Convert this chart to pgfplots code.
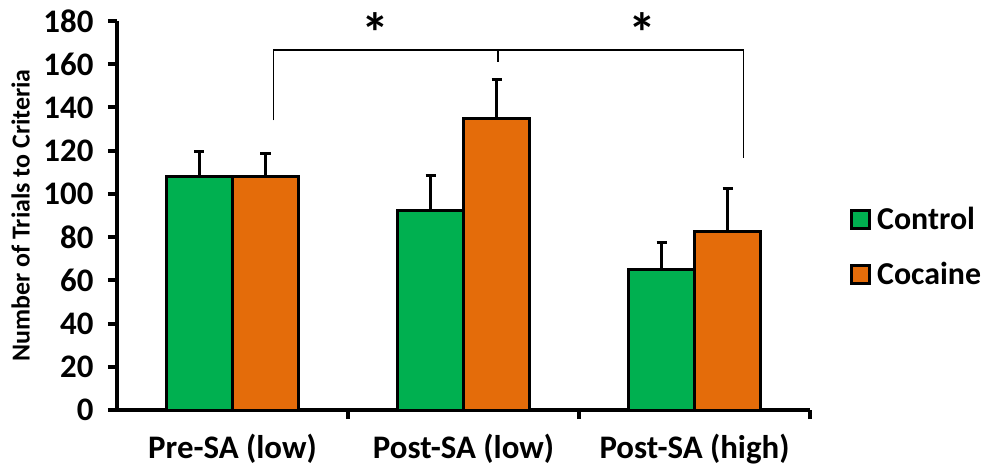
\documentclass[border=0pt]{standalone}
\usepackage{pgfplots}
\pgfplotsset{compat=1.18}
\usepackage{fontspec}
\setmainfont{Carlito}
\definecolor{cgreen}{RGB}{0,176,80}
\definecolor{corange}{RGB}{228,108,10}
\begin{document}
\begin{tikzpicture}
\begin{axis}[
  scale only axis,
  width=693bp, height=389bp,
  xmin=-0.5, xmax=2.5,
  ymin=0, ymax=180,
  ytick distance=20,
  xtick={0,1,2},
  xticklabels={Pre-SA (low),Post-SA (low),Post-SA (high)},
  minor xtick={0.5,1.5,2.5},
  axis x line*=bottom, axis y line*=left,
  axis line style={-, line width=4bp},
  x axis line style={-}, y axis line style={-},
  tick align=outside,
  major tick length=9bp, minor tick length=9bp,
  major x tick style={draw=none},
  minor x tick style={line width=4bp, black},
  major y tick style={line width=4bp, black},
  /pgf/number format/assume math mode=true,
  tick label style={font=\fontsize{33}{38}\selectfont\bfseries},
  yticklabel style={xshift=-11bp},
  xticklabel style={yshift=-12bp},
  ylabel={Number of Trials to Criteria},
  ylabel style={font=\fontsize{26}{30}\selectfont\bfseries, at={(axis description cs:-0.139,0.5)}, anchor=center},
  ybar=0pt, bar width=66bp,
  clip=false,
  legend style={draw=none, fill=none, at={(1.058,0.42)}, anchor=west, inner sep=0pt, outer sep=0pt,
    font=\fontsize{32}{36}\selectfont\bfseries, row sep=27bp},
  legend cell align=left,
  legend image code/.code={\draw[#1, line width=3bp] (0bp,-9bp) rectangle (18bp,9bp); \path (22bp,0bp);},
]
\addplot[fill=cgreen, draw=black, line width=3bp,
  error bars/.cd, y dir=plus, y explicit,
  error bar style={line width=3bp, black},
  error mark options={black, line width=3bp, mark size=5bp, rotate=90}]
  coordinates {(0,108) +- (0,11.5) (1,92.3) +- (0,16) (2,64.8) +- (0,12.5)};
\addplot[fill=corange, draw=black, line width=3bp,
  error bars/.cd, y dir=plus, y explicit,
  error bar style={line width=3bp, black},
  error mark options={black, line width=3bp, mark size=5bp, rotate=90}]
  coordinates {(0,108) +- (0,10.5) (1,135) +- (0,18) (2,82.4) +- (0,20.3)};
\legend{Control,Cocaine}
\draw[line width=1.6bp] (axis cs:0.177,134) -- (axis cs:0.177,166.6) -- (axis cs:2.212,166.6) -- (axis cs:2.212,116.6);
\draw[line width=1.6bp] (axis cs:1.15,166.6) -- (axis cs:1.15,161);
\node[font=\fontsize{56}{60}\selectfont\bfseries, anchor=base] at (axis cs:0.617,165.2) {*};
\node[font=\fontsize{56}{60}\selectfont\bfseries, anchor=base] at (axis cs:1.775,165.2) {*};
\coordinate (O) at (rel axis cs:0,0);
\end{axis}
\pgfresetboundingbox
\path[use as bounding box] (O) ++(-117bp,-58bp) rectangle ++(983bp,468bp);
\end{tikzpicture}
\end{document}
